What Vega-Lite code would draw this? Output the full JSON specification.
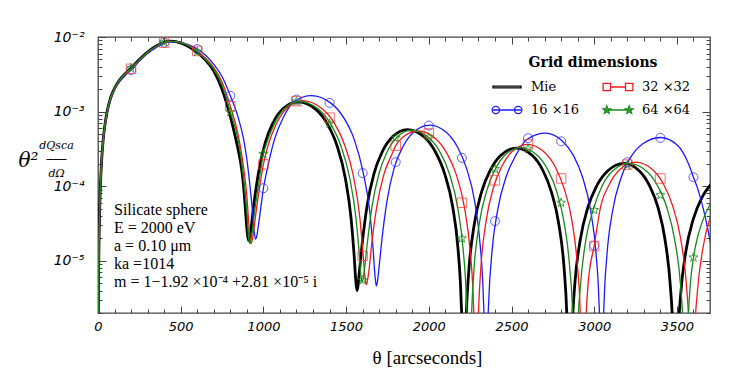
{
"$schema":"https://vega.github.io/schema/vega-lite/v6.json",
"width":612,"height":276,
"autosize":{"type":"none"},
"padding":{"left":98,"top":37,"right":37,"bottom":61},
"background":"white",
"config":{"view":{"stroke":"#444","strokeWidth":1.3},"axis":{"domain":false,"grid":false,"tickColor":"#444","tickWidth":1,"labelFlush":false,"labelOverlap":false}},
"datasets":{
"mie":[{"x":1,"y":5e-7},{"x":2,"y":2e-6},{"x":4,"y":8e-6},{"x":7,"y":2.4e-5},{"x":10,"y":4.8e-5},{"x":15,"y":1.05e-4},{"x":22,"y":2.2e-4},{"x":30,"y":3.9e-4},{"x":40,"y":6.2e-4},{"x":55,"y":1.0e-3},{"x":75,"y":1.5e-3},{"x":100,"y":2.05e-3},{"x":130,"y":2.65e-3},{"x":165,"y":3.25e-3},{"x":200,"y":3.85e-3},{"x":250,"y":5.0e-3},{"x":300,"y":6.3e-3},{"x":350,"y":7.5e-3},{"x":400,"y":8.5e-3},{"x":430,"y":8.8e-3},{"x":460,"y":8.75e-3},{"x":500,"y":8.3e-3},{"x":550,"y":7.4e-3},{"x":600,"y":6.2e-3},{"x":650,"y":4.9e-3},{"x":700,"y":3.5e-3},{"x":750,"y":2.0e-3},{"x":800,"y":8.6e-4},{"x":830,"y":4.6e-4},{"x":850,"y":2.9e-4},{"x":870,"y":1.6e-4},{"x":880,"y":1.0e-4},{"x":895,"y":3.8e-5},{"x":903,"y":2.3e-5},{"x":910,"y":1.87e-5},
{"x":916,"y":2.0e-5},{"x":925,"y":2.7e-5},{"x":940,"y":5.2e-5},{"x":970,"y":1.5e-4},{"x":1012,"y":3.9e-4},{"x":1060,"y":7.2e-4},{"x":1120,"y":1.1e-3},{"x":1210,"y":1.35e-3},{"x":1317,"y":1.07e-3},{"x":1388,"y":6.75e-4},{"x":1445,"y":3.5e-4},{"x":1495,"y":1.29e-4},{"x":1530,"y":3.7e-5},{"x":1548,"y":1.23e-5},{"x":1559,"y":5.3e-6},{"x":1566,"y":4.0e-6},
{"x":1572,"y":4.6e-6},{"x":1581,"y":7.5e-6},{"x":1596,"y":1.6e-5},{"x":1627,"y":5.5e-5},{"x":1669,"y":1.49e-4},{"x":1718,"y":2.88e-4},{"x":1779,"y":4.56e-4},{"x":1870,"y":5.75e-4},{"x":1972,"y":4.56e-4},{"x":2040,"y":2.88e-4},{"x":2095,"y":1.49e-4},{"x":2143,"y":5.5e-5},{"x":2177,"y":1.41e-5},{"x":2194,"y":3.5e-6},{"x":2204,"y":5.7e-7},{"x":2211,"y":1e-8},
{"x":2217,"y":3.2e-7},{"x":2227,"y":2.0e-6},{"x":2243,"y":7.95e-6},{"x":2275,"y":3.1e-5},{"x":2319,"y":8.42e-5},{"x":2371,"y":1.625e-4},{"x":2434,"y":2.58e-4},{"x":2530,"y":3.25e-4},{"x":2626,"y":2.58e-4},{"x":2690,"y":1.625e-4},{"x":2741,"y":8.42e-5},{"x":2786,"y":3.1e-5},{"x":2818,"y":7.95e-6},{"x":2834,"y":2.0e-6},{"x":2844,"y":3.2e-7},{"x":2850,"y":1e-8},
{"x":2857,"y":2.0e-7},{"x":2867,"y":1.24e-6},{"x":2883,"y":4.94e-6},{"x":2916,"y":1.93e-5},{"x":2962,"y":5.23e-5},{"x":3015,"y":1.01e-4},{"x":3081,"y":1.6e-4},{"x":3180,"y":2.02e-4},{"x":3273,"y":1.6e-4},{"x":3335,"y":1.01e-4},{"x":3385,"y":5.23e-5},{"x":3428,"y":1.93e-5},{"x":3459,"y":4.94e-6},{"x":3475,"y":1.24e-6},{"x":3484,"y":2.0e-7},{"x":3490,"y":1e-8},
{"x":3496,"y":1.4e-7},{"x":3506,"y":8.6e-7},{"x":3522,"y":3.4e-6},{"x":3554,"y":1.34e-5},{"x":3599,"y":3.63e-5},{"x":3650,"y":7.0e-5},{"x":3714,"y":1.11e-4}],
"b16":[{"x":1,"y":4.5e-7},{"x":2,"y":1.8e-6},{"x":4,"y":7.5e-6},{"x":7,"y":2.3e-5},{"x":10,"y":4.5e-5},{"x":15,"y":1.0e-4},{"x":22,"y":2.1e-4},{"x":30,"y":3.7e-4},{"x":40,"y":5.9e-4},{"x":55,"y":9.5e-4},{"x":75,"y":1.42e-3},{"x":100,"y":1.95e-3},{"x":130,"y":2.5e-3},{"x":165,"y":3.05e-3},{"x":200,"y":3.6e-3},{"x":250,"y":4.75e-3},{"x":300,"y":6.0e-3},{"x":350,"y":7.2e-3},{"x":400,"y":8.3e-3},{"x":450,"y":8.7e-3},{"x":500,"y":8.5e-3},{"x":550,"y":7.85e-3},{"x":600,"y":6.9e-3},{"x":650,"y":5.7e-3},{"x":700,"y":4.3e-3},{"x":750,"y":2.95e-3},{"x":800,"y":1.63e-3},{"x":850,"y":8.0e-4},{"x":880,"y":4.3e-4},{"x":900,"y":2.3e-4},{"x":920,"y":9.5e-5},{"x":935,"y":4.4e-5},{"x":945,"y":2.4e-5},{"x":952,"y":1.95e-5},
{"x":959,"y":2.1e-5},{"x":969,"y":2.9e-5},{"x":986,"y":5.5e-5},{"x":1000,"y":9.4e-5},{"x":1020,"y":1.57e-4},{"x":1067,"y":4.25e-4},{"x":1121,"y":8.4e-4},{"x":1189,"y":1.38e-3},{"x":1290,"y":1.64e-3},{"x":1408,"y":1.30e-3},{"x":1487,"y":8.2e-4},{"x":1549,"y":4.25e-4},{"x":1604,"y":1.5e-4},{"x":1644,"y":4.4e-5},{"x":1663,"y":1.47e-5},{"x":1675,"y":6.2e-6},{"x":1683,"y":4.6e-6},
{"x":1689,"y":5.2e-6},{"x":1699,"y":8.1e-6},{"x":1715,"y":1.8e-5},{"x":1747,"y":6.3e-5},{"x":1792,"y":1.8e-4},{"x":1844,"y":3.4e-4},{"x":1908,"y":5.3e-4},{"x":2005,"y":6.6e-4},{"x":2107,"y":5.24e-4},{"x":2175,"y":3.3e-4},{"x":2229,"y":1.71e-4},{"x":2277,"y":6.3e-5},{"x":2311,"y":1.6e-5},{"x":2328,"y":4.1e-6},{"x":2338,"y":6.5e-7},{"x":2345,"y":1e-8},
{"x":2352,"y":5.1e-7},{"x":2363,"y":3.16e-6},{"x":2381,"y":1.26e-5},{"x":2417,"y":4.91e-5},{"x":2467,"y":1.33e-4},{"x":2525,"y":2.57e-4},{"x":2597,"y":4.3e-4},{"x":2705,"y":5.14e-4},{"x":2807,"y":4.05e-4},{"x":2875,"y":2.57e-4},{"x":2929,"y":1.33e-4},{"x":2977,"y":4.91e-5},{"x":3011,"y":1.26e-5},{"x":3028,"y":3.16e-6},{"x":3038,"y":5.1e-7},{"x":3045,"y":1e-8},
{"x":3050,"y":4.4e-7},{"x":3060,"y":2.9e-6},{"x":3077,"y":1.2e-5},{"x":3112,"y":4.8e-5},{"x":3160,"y":1.25e-4},{"x":3200,"y":2.05e-4},{"x":3223,"y":2.5e-4},{"x":3294,"y":3.7e-4},{"x":3400,"y":4.5e-4},{"x":3502,"y":3.57e-4},{"x":3570,"y":2.0e-4},{"x":3600,"y":1.32e-4},{"x":3624,"y":9.5e-5},{"x":3672,"y":3.8e-5},{"x":3706,"y":1.6e-5}],
"r32":[{"x":1,"y":5e-7},{"x":2,"y":2e-6},{"x":4,"y":8e-6},{"x":7,"y":2.4e-5},{"x":10,"y":4.8e-5},{"x":15,"y":1.05e-4},{"x":22,"y":2.2e-4},{"x":30,"y":3.85e-4},{"x":40,"y":6.1e-4},{"x":55,"y":9.8e-4},{"x":75,"y":1.47e-3},{"x":100,"y":2.0e-3},{"x":130,"y":2.6e-3},{"x":165,"y":3.2e-3},{"x":200,"y":3.75e-3},{"x":250,"y":4.9e-3},{"x":300,"y":6.2e-3},{"x":350,"y":7.4e-3},{"x":400,"y":8.4e-3},{"x":440,"y":8.75e-3},{"x":500,"y":8.4e-3},{"x":550,"y":7.7e-3},{"x":600,"y":6.5e-3},{"x":650,"y":5.2e-3},{"x":700,"y":3.9e-3},{"x":750,"y":2.5e-3},{"x":800,"y":1.18e-3},{"x":850,"y":4.6e-4},{"x":880,"y":1.8e-4},{"x":900,"y":7.3e-5},{"x":915,"y":2.6e-5},{"x":925,"y":1.7e-5},
{"x":931,"y":1.84e-5},{"x":941,"y":2.5e-5},{"x":956,"y":4.6e-5},{"x":987,"y":1.34e-4},{"x":1000,"y":1.96e-4},{"x":1030,"y":3.63e-4},{"x":1080,"y":7.0e-4},{"x":1142,"y":1.11e-3},{"x":1235,"y":1.40e-3},{"x":1351,"y":1.11e-3},{"x":1429,"y":7.0e-4},{"x":1490,"y":3.63e-4},{"x":1545,"y":1.34e-4},{"x":1583,"y":3.8e-5},{"x":1603,"y":1.2e-5},{"x":1614,"y":6.2e-6},{"x":1622,"y":4.8e-6},
{"x":1628,"y":5.3e-6},{"x":1638,"y":7.4e-6},{"x":1653,"y":1.55e-5},{"x":1685,"y":5.25e-5},{"x":1728,"y":1.43e-4},{"x":1779,"y":2.75e-4},{"x":1800,"y":3.5e-4},{"x":1841,"y":4.5e-4},{"x":1935,"y":5.5e-4},{"x":2040,"y":4.37e-4},{"x":2110,"y":2.75e-4},{"x":2166,"y":1.43e-4},{"x":2215,"y":5.25e-5},{"x":2250,"y":1.35e-5},{"x":2268,"y":3.4e-6},{"x":2278,"y":5.4e-7},{"x":2285,"y":1e-8},
{"x":2291,"y":3.6e-7},{"x":2301,"y":2.25e-6},{"x":2316,"y":8.93e-6},{"x":2347,"y":3.49e-5},{"x":2390,"y":9.46e-5},{"x":2440,"y":1.825e-4},{"x":2502,"y":2.9e-4},{"x":2595,"y":3.65e-4},{"x":2696,"y":2.9e-4},{"x":2764,"y":1.825e-4},{"x":2817,"y":9.46e-5},{"x":2865,"y":3.49e-5},{"x":2898,"y":8.93e-6},{"x":2915,"y":2.25e-6},{"x":2925,"y":3.6e-7},{"x":2932,"y":1e-8},
{"x":2938,"y":2.08e-7},{"x":2948,"y":1.3e-6},{"x":2964,"y":5.16e-6},{"x":3000,"y":1.6e-5},{"x":3040,"y":5.47e-5},{"x":3091,"y":1.055e-4},{"x":3155,"y":1.675e-4},{"x":3250,"y":2.11e-4},{"x":3352,"y":1.675e-4},{"x":3420,"y":1.055e-4},{"x":3474,"y":5.47e-5},{"x":3522,"y":2.01e-5},{"x":3556,"y":5.16e-6},{"x":3573,"y":1.3e-6},{"x":3583,"y":2.08e-7},{"x":3590,"y":1e-8},
{"x":3597,"y":1.5e-7},{"x":3606,"y":9.2e-7},{"x":3623,"y":3.7e-6},{"x":3656,"y":1.43e-5},{"x":3702,"y":3.9e-5}],
"g64":[{"x":1,"y":5e-7},{"x":2,"y":2e-6},{"x":4,"y":8e-6},{"x":7,"y":2.4e-5},{"x":10,"y":4.8e-5},{"x":15,"y":1.05e-4},{"x":22,"y":2.2e-4},{"x":30,"y":3.9e-4},{"x":40,"y":6.2e-4},{"x":55,"y":1.0e-3},{"x":75,"y":1.5e-3},{"x":100,"y":2.05e-3},{"x":130,"y":2.65e-3},{"x":165,"y":3.25e-3},{"x":200,"y":3.8e-3},{"x":250,"y":4.95e-3},{"x":300,"y":6.25e-3},{"x":350,"y":7.45e-3},{"x":400,"y":8.5e-3},{"x":435,"y":8.75e-3},{"x":500,"y":8.4e-3},{"x":550,"y":7.6e-3},{"x":600,"y":6.35e-3},{"x":650,"y":5.0e-3},{"x":700,"y":3.7e-3},{"x":750,"y":2.25e-3},{"x":800,"y":9.8e-4},{"x":850,"y":3.9e-4},{"x":880,"y":1.25e-4},{"x":900,"y":4.5e-5},{"x":910,"y":2.1e-5},{"x":917,"y":1.7e-5},
{"x":923,"y":1.84e-5},{"x":932,"y":2.4e-5},{"x":947,"y":4.6e-5},{"x":977,"y":1.31e-4},{"x":1000,"y":2.7e-4},{"x":1018,"y":3.7e-4},{"x":1066,"y":6.85e-4},{"x":1126,"y":1.09e-3},{"x":1215,"y":1.37e-3},{"x":1330,"y":1.09e-3},{"x":1406,"y":6.85e-4},{"x":1467,"y":3.55e-4},{"x":1521,"y":1.31e-4},{"x":1559,"y":3.85e-5},{"x":1578,"y":1.36e-5},{"x":1589,"y":6.5e-6},{"x":1597,"y":5.2e-6},
{"x":1603,"y":5.8e-6},{"x":1612,"y":8e-6},{"x":1627,"y":1.63e-5},{"x":1657,"y":5.4e-5},{"x":1698,"y":1.46e-4},{"x":1746,"y":2.83e-4},{"x":1806,"y":4.49e-4},{"x":1895,"y":5.65e-4},{"x":1999,"y":4.49e-4},{"x":2069,"y":2.83e-4},{"x":2125,"y":1.46e-4},{"x":2173,"y":5.4e-5},{"x":2208,"y":1.38e-5},{"x":2226,"y":3.5e-6},{"x":2236,"y":5.6e-7},{"x":2243,"y":1e-8},
{"x":2249,"y":3.3e-7},{"x":2259,"y":2.03e-6},{"x":2274,"y":8.08e-6},{"x":2305,"y":3.15e-5},{"x":2349,"y":8.55e-5},{"x":2399,"y":1.65e-4},{"x":2461,"y":2.62e-4},{"x":2555,"y":3.3e-4},{"x":2654,"y":2.62e-4},{"x":2720,"y":1.65e-4},{"x":2773,"y":8.55e-5},{"x":2819,"y":3.15e-5},{"x":2852,"y":8.08e-6},{"x":2869,"y":2.03e-6},{"x":2878,"y":3.3e-7},{"x":2885,"y":1e-8},
{"x":2892,"y":2.0e-7},{"x":2901,"y":1.25e-6},{"x":2918,"y":4.97e-6},{"x":2950,"y":1.94e-5},{"x":2996,"y":5.0e-5},{"x":3048,"y":1.015e-4},{"x":3113,"y":1.61e-4},{"x":3210,"y":2.03e-4},{"x":3314,"y":1.61e-4},{"x":3383,"y":1.015e-4},{"x":3438,"y":5.26e-5},{"x":3486,"y":1.94e-5},{"x":3521,"y":4.97e-6},{"x":3538,"y":1.25e-6},{"x":3548,"y":2.0e-7},{"x":3555,"y":1e-8},
{"x":3560,"y":3e-7},{"x":3568,"y":1.5e-6},{"x":3580,"y":4.5e-6},{"x":3600,"y":1.1e-5},{"x":3630,"y":2.3e-5},{"x":3667,"y":4.0e-5},{"x":3720,"y":6.8e-5}],
"mb":[{"x":200,"y":3.6e-3},{"x":400,"y":8.4e-3},{"x":600,"y":6.9e-3},{"x":800,"y":1.63e-3},{"x":1000,"y":9.4e-5},{"x":1200,"y":1.45e-3},{"x":1400,"y":1.31e-3},{"x":1600,"y":1.5e-4},{"x":1800,"y":2.1e-4},{"x":2000,"y":6.5e-4},{"x":2200,"y":2.4e-4},{"x":2400,"y":3.4e-5},{"x":2600,"y":4.4e-4},{"x":2800,"y":4.0e-4},{"x":3000,"y":1.6e-5},{"x":3200,"y":2.1e-4},{"x":3400,"y":4.45e-4},{"x":3600,"y":1.32e-4}],
"mr":[{"x":200,"y":3.75e-3},{"x":400,"y":8.4e-3},{"x":600,"y":6.5e-3},{"x":800,"y":1.18e-3},{"x":1000,"y":1.96e-4},{"x":1200,"y":1.38e-3},{"x":1400,"y":8.3e-4},{"x":1600,"y":1.17e-5},{"x":1800,"y":3.5e-4},{"x":2000,"y":5.1e-4},{"x":2200,"y":6.0e-5},{"x":2400,"y":1.2e-4},{"x":2600,"y":3.63e-4},{"x":2800,"y":1.27e-4},{"x":3000,"y":1.58e-5},{"x":3200,"y":1.95e-4},{"x":3400,"y":1.27e-4}],
"mg":[{"x":200,"y":3.8e-3},{"x":400,"y":8.5e-3},{"x":600,"y":6.35e-3},{"x":800,"y":9.8e-4},{"x":1000,"y":2.7e-4},{"x":1200,"y":1.37e-3},{"x":1400,"y":6.9e-4},{"x":1600,"y":5.5e-6},{"x":1800,"y":4.45e-4},{"x":2000,"y":4.5e-4},{"x":2200,"y":2.0e-5},{"x":2400,"y":1.7e-4},{"x":2600,"y":3.18e-4},{"x":2800,"y":6.0e-5},{"x":3000,"y":4.8e-5},{"x":3200,"y":1.92e-4},{"x":3400,"y":7.6e-5},{"x":3600,"y":1.11e-5}],
"leg":[{"s":"Mie","x":-500,"y":1e-9},{"s":"16 ×16","x":-500,"y":1e-9},{"s":"32 ×32","x":-500,"y":1e-9},{"s":"64 ×64","x":-500,"y":1e-9}],
"note":[{"t":"Silicate sphere","x":-500,"y":1e-9},{"t":"E = 2000 eV","x":-500,"y":1e-9},{"t":"a = 0.10 μm","x":-500,"y":1e-9},{"t":"ka =1014","x":-500,"y":1e-9},{"t":"m = 1−1.92 ×10⁻⁴ +2.81 ×10⁻⁵ i","x":-500,"y":1e-9}]
},
"layer":[
{"data":{"name":"mie"},"mark":{"type":"line","color":"#000000","strokeWidth":2.8,"interpolate":"monotone","clip":true},
 "encoding":{
  "x":{"field":"x","type":"quantitative","scale":{"domain":[0,3700],"nice":false,"zero":false},
   "axis":{"orient":"bottom","values":[0,500,1000,1500,2000,2500,3000,3500],"format":"d","tickSize":-7,"labelFont":"DejaVu Sans","labelFontStyle":"italic","labelFontSize":13,"labelColor":"#000","labelPadding":14,"title":"θ [arcseconds]","titleFont":"Liberation Serif","titleFontSize":19,"titleFontWeight":"normal","titleColor":"#000","titleX":329,"titleY":44,"titleAlign":"center","titleBaseline":"middle"}},
  "y":{"field":"y","type":"quantitative","scale":{"type":"log","domain":[2e-6,0.01],"nice":false},
   "axis":{"orient":"left","values":[1e-5,1e-4,1e-3,1e-2],"tickSize":-8,"labelExpr":"datum.value > 0.005 ? '10⁻²' : datum.value > 0.0005 ? '10⁻³' : datum.value > 0.00005 ? '10⁻⁴' : '10⁻⁵'","labelFont":"DejaVu Sans","labelFontStyle":"italic","labelFontSize":14,"labelColor":"#000","labelPadding":22,"title":"θ²","titleAngle":0,"titleFont":"DejaVu Serif","titleFontStyle":"italic","titleFontWeight":"normal","titleFontSize":20,"titleColor":"#000","titleX":-70,"titleY":123,"titleAlign":"center","titleBaseline":"middle"}}}},
{"data":{"name":"b16"},"mark":{"type":"line","color":"#1a1aff","strokeWidth":1.3,"interpolate":"monotone","clip":true},
 "encoding":{
  "x":{"field":"x","type":"quantitative","axis":{"orient":"bottom","values":[100,200,300,400,600,700,800,900,1100,1200,1300,1400,1600,1700,1800,1900,2100,2200,2300,2400,2600,2700,2800,2900,3100,3200,3300,3400,3600],"tickSize":-4,"labels":false,"title":null}},
  "y":{"field":"y","type":"quantitative","axis":{"orient":"left","values":[2e-6,3e-6,4e-6,5e-6,6e-6,7e-6,8e-6,9e-6,2e-5,3e-5,4e-5,5e-5,6e-5,7e-5,8e-5,9e-5,2e-4,3e-4,4e-4,5e-4,6e-4,7e-4,8e-4,9e-4,2e-3,3e-3,4e-3,5e-3,6e-3,7e-3,8e-3,9e-3],"tickSize":-4,"labels":false,"title":["dQsca","───","dΩ"],"titleAngle":0,"titleFont":"DejaVu Serif","titleFontStyle":"italic","titleFontWeight":"normal","titleFontSize":11,"titleLineHeight":14,"titleColor":"#000","titleX":-42,"titleY":108,"titleAlign":"center","titleBaseline":"middle"}}}},
{"data":{"name":"r32"},"mark":{"type":"line","color":"#ee1c1c","strokeWidth":1.3,"interpolate":"monotone","clip":true},
 "encoding":{
  "x":{"field":"x","type":"quantitative","axis":{"orient":"top","values":[500,1000,1500,2000,2500,3000,3500],"tickSize":-7,"labels":false,"title":null}},
  "y":{"field":"y","type":"quantitative","axis":{"orient":"right","values":[1e-5,1e-4,1e-3],"tickSize":-8,"labels":false,"title":null}}}},
{"data":{"name":"g64"},"mark":{"type":"line","color":"#178a17","strokeWidth":1.3,"interpolate":"monotone","clip":true},
 "encoding":{
  "x":{"field":"x","type":"quantitative","axis":{"orient":"top","values":[100,200,300,400,600,700,800,900,1100,1200,1300,1400,1600,1700,1800,1900,2100,2200,2300,2400,2600,2700,2800,2900,3100,3200,3300,3400,3600],"tickSize":-4,"labels":false,"title":null}},
  "y":{"field":"y","type":"quantitative","axis":{"orient":"right","values":[2e-6,3e-6,4e-6,5e-6,6e-6,7e-6,8e-6,9e-6,2e-5,3e-5,4e-5,5e-5,6e-5,7e-5,8e-5,9e-5,2e-4,3e-4,4e-4,5e-4,6e-4,7e-4,8e-4,9e-4,2e-3,3e-3,4e-3,5e-3,6e-3,7e-3,8e-3,9e-3],"tickSize":-4,"labels":false,"title":null}}}},
{"data":{"name":"mb"},"mark":{"type":"point","shape":"circle","filled":false,"size":81,"color":"#2a2aff","strokeWidth":1,"opacity":0.75,"clip":true},
 "encoding":{"x":{"field":"x","type":"quantitative","axis":null},"y":{"field":"y","type":"quantitative","axis":null}}},
{"data":{"name":"mr"},"mark":{"type":"point","shape":"square","filled":false,"size":90,"color":"#ff3030","strokeWidth":1,"opacity":0.7,"clip":true},
 "encoding":{"x":{"field":"x","type":"quantitative","axis":null},"y":{"field":"y","type":"quantitative","axis":null}}},
{"data":{"name":"mg"},"mark":{"type":"point","shape":"M0,-1L0.235,-0.324L0.951,-0.309L0.38,0.124L0.588,0.809L0,0.4L-0.588,0.809L-0.38,0.124L-0.951,-0.309L-0.235,-0.324Z","filled":false,"size":90,"color":"#1a8a1a","strokeWidth":1,"opacity":0.8,"clip":true},
 "encoding":{"x":{"field":"x","type":"quantitative","axis":null},"y":{"field":"y","type":"quantitative","axis":null}}},
{"data":{"name":"leg"},"mark":{"type":"point","filled":false,"size":400,"strokeWidth":1.3,"opacity":1,"clip":true},
 "encoding":{"x":{"field":"x","type":"quantitative","axis":null},"y":{"field":"y","type":"quantitative","axis":null},
  "color":{"field":"s","type":"nominal","scale":{"domain":["Mie","16 ×16","32 ×32","64 ×64"],"range":["#000000","#1a1aff","#ee1c1c","#178a17"]},
   "legend":{"title":"Grid dimensions","orient":"none","legendX":398,"legendY":19,"columns":2,"symbolSize":400,"symbolStrokeWidth":1.3,"symbolOpacity":1,"labelOffset":13,"columnPadding":20,"rowPadding":5,"padding":0,"titleFont":"DejaVu Serif","titleFontSize":14,"titleFontWeight":"bold","titleColor":"#000","titleAnchor":"middle","titlePadding":6,"labelFont":"DejaVu Serif","labelFontSize":13,"labelColor":"#000"}},
  "shape":{"field":"s","type":"nominal","scale":{"domain":["Mie","16 ×16","32 ×32","64 ×64"],"range":[
   "M-1.4,-0.09L1.4,-0.09L1.4,0.09L-1.4,0.09Z",
   "M-1.4,0L1.4,0M-0.75,0A0.37,0.37 0 1,1 -1.49,0A0.37,0.37 0 1,1 -0.75,0ZM1.49,0A0.37,0.37 0 1,1 0.75,0A0.37,0.37 0 1,1 1.49,0Z",
   "M-0.75,0L0.75,0M-1.49,-0.37L-0.75,-0.37L-0.75,0.37L-1.49,0.37ZM0.75,-0.37L1.49,-0.37L1.49,0.37L0.75,0.37Z",
   "M-1.4,0L1.4,0M-1.12,-0.4L-1.026,-0.129L-0.74,-0.124L-0.968,0.049L-0.885,0.324L-1.12,0.16L-1.355,0.324L-1.272,0.049L-1.5,-0.124L-1.214,-0.129ZM1.12,-0.4L1.214,-0.129L1.5,-0.124L1.272,0.049L1.355,0.324L1.12,0.16L0.885,0.324L0.968,0.049L0.74,-0.124L1.026,-0.129Z"]},
   "legend":{"title":"Grid dimensions","orient":"none","legendX":398,"legendY":19,"columns":2,"symbolSize":400,"symbolStrokeWidth":1.3,"symbolOpacity":1,"labelOffset":13,"columnPadding":20,"rowPadding":5,"padding":0,"titleFont":"DejaVu Serif","titleFontSize":14,"titleFontWeight":"bold","titleColor":"#000","titleAnchor":"middle","titlePadding":6,"labelFont":"DejaVu Serif","labelFontSize":13,"labelColor":"#000"}}}},
{"data":{"name":"note"},"mark":{"type":"point","filled":true,"clip":true},
 "encoding":{"x":{"field":"x","type":"quantitative","axis":null},"y":{"field":"y","type":"quantitative","axis":null},
  "fill":{"field":"t","type":"nominal","scale":{"domain":["Silicate sphere","E = 2000 eV","a = 0.10 μm","ka =1014","m = 1−1.92 ×10⁻⁴ +2.81 ×10⁻⁵ i"],"range":["#ffffff","#ffffff","#ffffff","#ffffff","#ffffff"]},
   "legend":{"title":null,"orient":"none","legendX":0,"legendY":165,"symbolOpacity":0,"symbolSize":1,"symbolStrokeWidth":0,"labelOffset":0,"labelFont":"Liberation Serif","labelFontSize":16,"labelColor":"#000","labelLimit":400,"rowPadding":2,"padding":0}}}}
],
"resolve":{"axis":{"x":"independent","y":"independent"}}
}
